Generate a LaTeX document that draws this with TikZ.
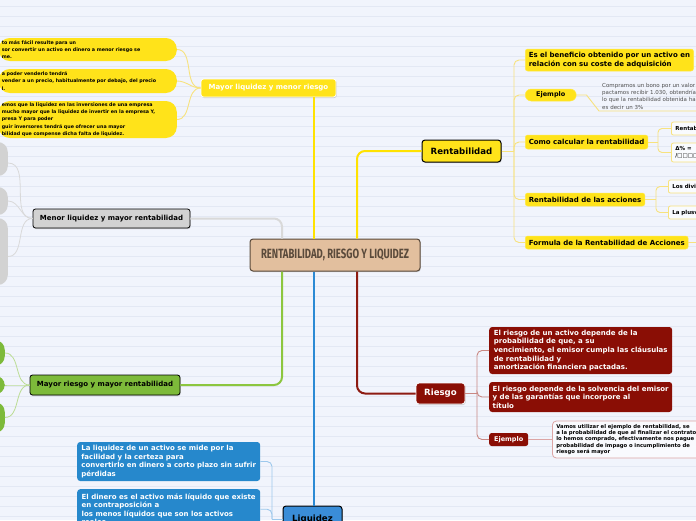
\documentclass[tikz,border=0pt]{standalone}
\usepackage{fontspec}
\usepackage{graphicx}
\setmainfont{DejaVu Sans}
\newfontfamily\cfont{Fira Sans}
\usetikzlibrary{calc,shadows}
\definecolor{bgc}{HTML}{F1F4FC}
\definecolor{bgl}{HTML}{E3E8F4}
\definecolor{yel}{HTML}{FFE31A}
\definecolor{yline}{HTML}{FFE200}
\definecolor{ylight}{HTML}{F7E27E}
\definecolor{tanc}{HTML}{E2BF9E}
\definecolor{brn}{HTML}{5A4A3B}
\definecolor{gry}{HTML}{D2D2D2}
\definecolor{gline}{HTML}{D9D9D9}
\definecolor{grn}{HTML}{7DBA3A}
\definecolor{gnline}{HTML}{8CC63F}
\definecolor{gnlight}{HTML}{BBDC94}
\definecolor{dred}{HTML}{8A0E05}
\definecolor{rline}{HTML}{8E1B12}
\definecolor{rlight}{HTML}{C98883}
\definecolor{pinkb}{HTML}{DCA5A5}
\definecolor{blu}{HTML}{2688CC}
\definecolor{blunode}{HTML}{3A8DD8}
\definecolor{bline}{HTML}{2C8AD4}
\definecolor{blight}{HTML}{9CC8EC}
\definecolor{txtg}{HTML}{505050}
\begin{document}
\begin{tikzpicture}[x=1pt,y=-1pt,
  shad/.style={drop shadow={opacity=0.35,shadow xshift=0.7pt,shadow yshift=-1pt}},
  fseven/.style={font=\fontsize{7}{8.6}\selectfont\bfseries},
  fbig/.style={font=\fontsize{8.6}{10}\selectfont\bfseries},
  mainnode/.style={rounded corners=2.5pt, line width=0.8pt, shad},
  lbox/.style={fill=yel, text width=172pt, inner xsep=3pt, inner ysep=1pt, rounded corners=11pt, align=left, font=\fontsize{4.8}{7.3}\selectfont\bfseries, text=black, anchor=east},
  blob/.style={anchor=east, minimum width=40pt, rounded corners=10pt, inner sep=0pt},
  ybox/.style={fseven, fill=yel, draw=yel!80!white, line width=0.5pt, rounded corners=2.5pt, anchor=west, align=left, inner xsep=3.5pt, inner ysep=1pt},
  sbox/.style={font=\fontsize{5.5}{6.8}\selectfont\bfseries, fill=white!60!bgc, draw=ylight, line width=0.8pt, rounded corners=2pt, anchor=west, align=left, text width=50pt, inner xsep=4pt, inner ysep=1pt},
  rbox/.style={fseven, text=white, fill=dred, rounded corners=3pt, anchor=west, align=left, inner xsep=3.5pt, inner ysep=1pt, minimum width=183pt},
  bbox/.style={fseven, text=white, fill=blu, rounded corners=3pt, align=left, inner xsep=4pt, inner ysep=1pt, minimum width=183pt},
  ythin/.style={draw=ylight, line width=0.9pt},
  gthin/.style={draw=gline, line width=0.8pt},
  gnthin/.style={draw=gnlight, line width=0.8pt},
  rthin/.style={draw=rlight, line width=0.9pt},
  bthin/.style={draw=blight, line width=0.9pt},
  thick2/.style={line width=2pt}
]
\useasboundingbox (0,0) rectangle (696,520);
\fill[bgc] (0,0) rectangle (696,520);
\clip (0,0) rectangle (696,520);
\foreach \k in {0,...,51} {\draw[bgl, line width=0.7pt] (0,{6+10*\k}) -- (696,{6+10*\k});}

\coordinate (xa) at (282,0);
\coordinate (xb) at (314,0);
\coordinate (xc) at (357,0);

% central node
\node[fill=tanc, draw=brn, text=brn, line width=1pt, rounded corners=3pt, minimum width=170pt, minimum height=32pt, shad, inner sep=0pt] (c) at (335,255) {\resizebox{148pt}{9.5pt}{\cfont\bfseries RENTABILIDAD, RIESGO Y LIQUIDEZ}};

% main branches
\node[fseven, mainnode, text=white, fill=yel, draw=white, minimum width=135pt, minimum height=18pt] (ml) at (268.5,88) {Mayor liquidez y menor riesgo};
\node[fseven, mainnode, fill=gry, draw=black, minimum width=157pt, minimum height=19pt] (mn) at (111.5,218.5) {Menor liquidez y mayor rentabilidad};
\node[fseven, mainnode, fill=grn, draw=black, minimum width=150pt, minimum height=20pt] (mr) at (105,385) {Mayor riesgo y mayor rentabilidad};
\node[fbig, fill=yel, draw=black, line width=1pt, rounded corners=3pt, minimum width=79pt, minimum height=22pt, shad] (rt) at (461.5,151) {Rentabilidad};
\node[fbig, text=white, fill=dred, draw=white, line width=0.8pt, rounded corners=3pt, minimum width=49pt, minimum height=21pt, shad] (rg) at (440.5,393.5) {Riesgo};
\node[fbig, fill=blunode, draw=black, line width=1pt, rounded corners=3pt, minimum width=59pt, minimum height=26pt, shad] (lq) at (312.5,519) {Liquidez};

% main connectors
\draw[yline, thick2] (c.north -| xb) -- (ml.south -| xb);
\draw[gline, thick2, rounded corners=8pt] (mn.east) -| (c.north -| xa);
\draw[gnline, thick2, rounded corners=8pt] (c.south -| xa) |- (mr.east);
\draw[yline, thick2, rounded corners=8pt] (c.north -| xc) |- (rt.west);
\draw[rline, thick2, rounded corners=8pt] (c.south -| xc) |- (rg.west);
\draw[bline, thick2] (c.south -| xb) -- (lq.north -| xb);

% Mayor liquidez y menor riesgo children
\node[lbox, minimum height=23pt] (ml1) at (177,49.5) {to más fácil resulte para un\\sor convertir un activo en dinero a menor riesgo se\\me.};
\node[lbox, minimum height=24pt] (ml2) at (177,81) {a poder venderlo tendrá\\vender a un precio, habitualmente por debajo, del precio\\l.};
\node[lbox, minimum height=37pt] (ml3) at (177,119.5) {emos que la liquidez en las inversiones de una empresa\\mucho mayor que la liquidez de invertir en la empresa Y,\\presa Y para poder\\guir inversores tendrá que ofrecer una mayor\\bilidad que compense dicha falta de liquidez.};
\foreach \n in {ml1,ml2,ml3} {\draw[ythin] (ml.west) to[out=180,in=0] (\n.east);}

% Menor liquidez children
\node[blob, fill=gry, minimum height=34pt] (mn1) at (8,159) {};
\node[blob, fill=gry, minimum height=28pt] (mn2) at (8,201) {};
\node[blob, fill=gry, minimum height=67pt] (mn3) at (8,251.5) {};
\draw[gthin] (mn.west) to[out=180,in=0] ([yshift=-4pt]mn1.east);
\draw[gthin] (mn.west) to[out=180,in=0] (mn2.east);
\draw[gthin] (mn.west) to[out=180,in=0] ([yshift=-5pt]mn3.east);

% Mayor riesgo children
\node[blob, fill=grn, minimum height=26pt] (mr1) at (5,353) {};
\node[blob, fill=grn, minimum height=19pt] (mr2) at (5,385) {};
\node[blob, fill=grn, minimum height=31pt] (mr3) at (5,417.5) {};
\foreach \n in {mr1,mr2,mr3} {\draw[gnthin] (mr.west) to[out=180,in=0] (\n.east);}

% Rentabilidad children
\node[ybox, minimum height=22pt, font=\fontsize{7}{9}\selectfont\bfseries] (rb1) at (525,60) {Es el beneficio obtenido por un activo en\\relación con su coste de adquisición};
\node[ybox, font=\fontsize{6.5}{8}\selectfont\bfseries, rounded corners=6pt, minimum width=51pt, minimum height=12pt, align=center] (rej) at (525,95) {Ejemplo};
\node[ybox, minimum height=14pt] (rcc) at (525,142) {Como calcular la rentabilidad};
\node[ybox, minimum height=13pt] (rac) at (525,199.5) {Rentabilidad de las acciones};
\node[ybox, minimum height=13pt] (rfo) at (525,242.5) {Formula de la Rentabilidad de Acciones};
\coordinate (rtj) at (514,151);
\draw[ythin] (rt.east) -- (rtj);
\foreach \n in {rb1,rej,rcc,rac,rfo} {\draw[ythin, rounded corners=5pt] (rtj) |- (\n.west);}

\node[anchor=south west, font=\fontsize{5.5}{7.3}\selectfont, text=txtg, align=left, text width=130pt, inner xsep=3pt, inner ysep=1.5pt] (rex) at (599,111) {Compramos un bono por un valor\\pactamos recibir 1.030, obtendríamos\\lo que la rentabilidad obtenida habrá\\es decir un 3\%};
\draw[ythin] (rej.east) -- ++(10,0) -- (rex.south west) -- (rex.south east);

\node[sbox, minimum height=13pt] (rcc1) at (671,128.5) {Rentabilidad};
\node[sbox, minimum height=19pt] (rcc2) at (671,152.5) {Δ\% =\\/□□□□};
\coordinate (rccj) at (658,142);
\draw[ythin] (rcc.east) -- (rccj);
\foreach \n in {rcc1,rcc2} {\draw[ythin, rounded corners=4pt] (rccj) |- (\n.west);}

\node[sbox, minimum height=13pt] (rac1) at (668,186.5) {Los dividendos};
\node[sbox, minimum height=13pt] (rac2) at (668,212.5) {La plusvalía};
\coordinate (racj) at (656,199.5);
\draw[ythin] (rac.east) -- (racj);
\foreach \n in {rac1,rac2} {\draw[ythin, rounded corners=4pt] (racj) |- (\n.west);}

\coordinate (rfoc) at (700,242.5);
\draw[ythin] (rfo.east) -- (rfoc);

% Riesgo children
\node[rbox, minimum height=47pt] (rg1) at (489,350.5) {El riesgo de un activo depende de la\\probabilidad de que, a su\\vencimiento, el emisor cumpla las cláusulas\\de rentabilidad y\\amortización financiera pactadas.};
\node[rbox, minimum height=30pt] (rg2) at (489,397) {El riesgo depende de la solvencia del emisor\\y de las garantías que incorpore al\\título};
\node[rbox, font=\fontsize{6.5}{8}\selectfont\bfseries, minimum width=39pt, minimum height=13pt, align=center, rounded corners=2.5pt] (rgej) at (489,439.5) {Ejemplo};
\coordinate (rgj) at (477,393.5);
\draw[rthin] (rg.east) -- (rgj);
\foreach \n in {rg1,rg2,rgej} {\draw[rthin, rounded corners=5pt] (rgj) |- (\n.west);}

\node[anchor=west, font=\fontsize{5.3}{6.4}\selectfont\bfseries, fill=white!55!bgc, draw=pinkb, line width=0.8pt, rounded corners=4pt, align=left, text width=180pt, inner xsep=4pt, inner ysep=1pt, minimum height=37pt] (rgex) at (552,439.5) {Vamos utilizar el ejemplo de rentabilidad, se\\a la probabilidad de que al finalizar el contrato\\lo hemos comprado, efectivamente nos pague\\probabilidad de impago o incumplimiento de\\riesgo será mayor};
\draw[draw=pinkb, line width=0.9pt] (rgej.east) -- (rgex.west);

% Liquidez children
\node[bbox, anchor=west, minimum height=39pt] (lq1) at (77,461.5) {La liquidez de un activo se mide por la\\facilidad y la certeza para\\convertirlo en dinero a corto plazo sin sufrir\\pérdidas};
\node[bbox, anchor=north west, minimum height=40pt] (lq2) at (77,489) {El dinero es el activo más líquido que existe\\en contraposición a\\los menos líquidos que son los activos\\reales};
\coordinate (lqj) at (272,519);
\draw[bthin] (lq.west) -- (lqj);
\foreach \n in {lq1,lq2} {\draw[bthin, rounded corners=5pt] (lqj) |- (\n.east);}
\end{tikzpicture}
\end{document}
